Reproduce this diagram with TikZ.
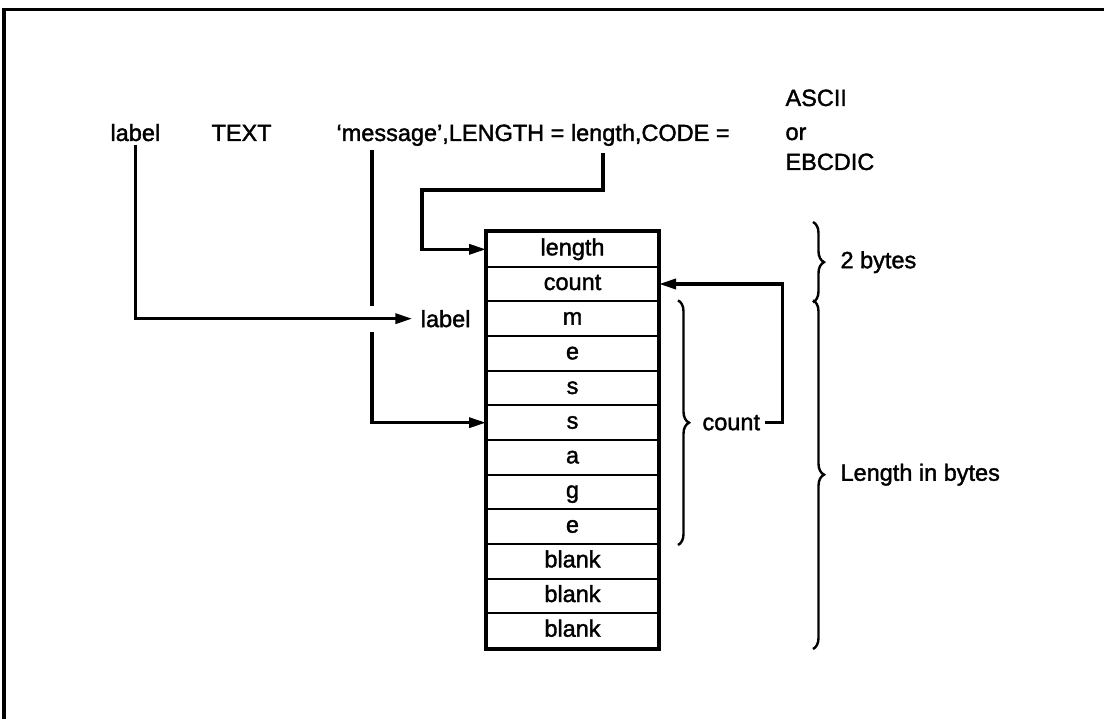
\documentclass[tikz,border=0pt]{standalone}
\usepackage{fontspec}
\setmainfont{Liberation Sans}
\newfontfamily\diagfont[FakeBold=1.6]{Liberation Sans}
\usetikzlibrary{positioning,arrows.meta,decorations.pathreplacing}

\begin{document}
\begin{tikzpicture}[x=1pt,y=-1pt,
  every node/.style={font=\diagfont\fontsize{23.5}{28}\selectfont},
  cell/.style={draw,line width=2pt,minimum width=171pt,minimum height=34.67pt,inner sep=0pt,text height=17pt,text depth=5pt},
  wire/.style={line width=3.4pt},
  arr/.style={wire,-{Triangle[length=17pt,width=10pt]}},
  bracket/.style={line width=2.4pt,decorate,decoration={brace,amplitude=11pt}}]
\def\rh{34.67}
\useasboundingbox (0,0) rectangle (1104,719);
% frame
\draw[line width=3.5pt] (4,719) -- (4,9.5) -- (1104,9.5);
% statement line
\node[anchor=base west] (lbl) at (107,141) {label};
\node[anchor=base west] (txt) at (208,141) {TEXT};
\node[anchor=base west] (stmt) at (333,141) {‘message’,LENGTH = length,CODE =};
\node[anchor=base west] (ascii) at (782,106) {ASCII};
\node[anchor=base west] (or) at (782,140) {or};
\node[anchor=base west] (ebcdic) at (782,170) {EBCDIC};
\coordinate (msgtop) at (372,150);
\coordinate (lentop) at (603,153);
\coordinate (lenturn) at (422,190);
% storage cells
\foreach \t [count=\i] in {length,count,m,e,s,s,a,g,e,blank,blank,blank}
  \node[cell] (c\i) at (572.5,{232+(\i-0.5)*\rh}) {\t};
\draw[line width=3.4pt] (c1.north west) rectangle (c12.south east);
\node[anchor=east,xshift=-12pt] (lab) at (c3.west) {label};
% connectors
\draw[arr,shorten >=5pt] (lbl.south) |- (lab.west);
\draw[wire,shorten >=13pt] (msgtop) -- (msgtop |- lab.west);
\draw[arr,shorten <=13pt] (msgtop |- lab.west) |- (c6.west);
\draw[arr] (lentop) |- (lenturn) |- (c1.west);
% braces
\draw[bracket] ([xshift=19pt]c3.north east) -- ([xshift=19pt]c9.south east)
  node[midway,anchor=west,xshift=20pt] (cnt) {count};
\draw[arr] (cnt.east) -- ++(18,0) |- (c2.east);
\draw[bracket] ([xshift=154pt,yshift=9pt]c1.north east) -- ([xshift=154pt]c2.south east)
  node[midway,anchor=west,xshift=23pt] (two) {2 bytes};
\draw[bracket] ([xshift=154pt]c3.north east) -- ([xshift=154pt]c12.south east)
  node[midway,anchor=west,xshift=23pt] (len) {Length in bytes};
\end{tikzpicture}
\end{document}
